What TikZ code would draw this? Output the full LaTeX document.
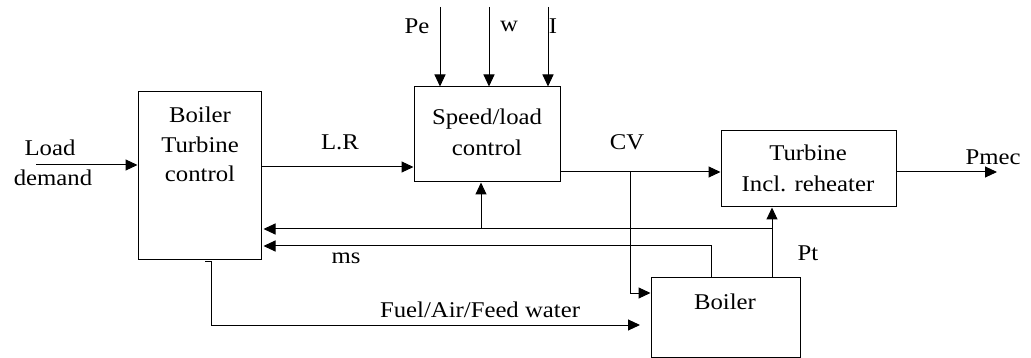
\documentclass[tikz,border=0pt]{standalone}
\usepackage{fontspec}
\setmainfont{Liberation Serif}[FakeStretch=1.1]
\usetikzlibrary{arrows.meta}
\begin{document}
\begin{tikzpicture}[x=1pt,y=-1pt,
  blk/.style={draw,line width=1pt,inner sep=0pt},
  txt/.style={inner sep=0pt,font=\fontsize{22.5}{30}\selectfont},
  wire/.style={line width=1pt},
  arr/.style={wire,-{Triangle[length=12pt,width=11pt]}}]
\useasboundingbox (0,0) rectangle (1031,358);
% blocks
\node[blk,minimum width=123pt,minimum height=168pt] (btc) at (199.5,176) {};
\node[blk,minimum width=146pt,minimum height=95pt] (spd) at (487,134.5) {};
\node[blk,minimum width=175pt,minimum height=76pt] (tur) at (808.5,169) {};
\node[blk,minimum width=149pt,minimum height=80pt] (boi) at (725.5,317) {};
% block texts
\node[txt] (t1) at (200,115) {Boiler};
\node[txt] (t2) at (200,145) {Turbine};
\node[txt] (t3) at (200,174) {control};
\node[txt] (t4) at (487,119) {Speed/load};
\node[txt] (t5) at (487,148) {control};
\node[txt] (t6) at (808,153) {Turbine};
\node[txt] (t7) at (808,184) {Incl. reheater};
\node[txt] (t8) at (725,302) {Boiler};
% labels
\node[txt] (lload) at (50,148) {Load};
\node[txt] (ldem) at (53,178) {demand};
\node[txt] (lpe) at (417,26) {Pe};
\node[txt] (lw) at (509,26) {w};
\node[txt] (li) at (553,26) {I};
\node[txt] (llr) at (340,142) {L.R};
\node[txt] (lcv) at (627,142) {CV};
\node[txt] (lpm) at (993,157) {Pmec};
\node[txt] (lpt) at (808,253) {Pt};
\node[txt] (lms) at (346,258) {ms};
\node[txt] (lfu) at (480,310) {Fuel/Air/Feed water};
% coordinates
\coordinate (ld) at (36,165);
\coordinate (lr) at (300,167);
\coordinate (pe) at (440,7);
\coordinate (w) at (489,7);
\coordinate (ii) at (548,7);
\coordinate (cv) at (630,172);
\coordinate (br) at (630,293);
\coordinate (pt) at (772,229);
\coordinate (fb) at (481,229);
\coordinate (ms) at (711,246);
\coordinate (pm) at (997,172);
\coordinate (f0) at (205,262);
\coordinate (f1) at (211,262);
\coordinate (f2) at (211,325);
\coordinate (f3) at (640,325);
% connectors
\draw[arr] (ld) -- (ld -| btc.west);
\draw[arr] (lr -| btc.east) -- (lr -| spd.west);
\draw[arr] (pe) -- (pe |- spd.north);
\draw[arr] (w) -- (w |- spd.north);
\draw[arr] (ii) -- (ii |- spd.north);
\draw[arr] (cv -| spd.east) -- (cv -| tur.west);
\draw[arr] (cv) -- (br) -- (br -| boi.west);
\draw[arr] (pt |- boi.north) -- (pt |- tur.south);
\draw[arr] (pt) -- ([xshift=2pt]pt -| btc.east);
\draw[arr] (fb) -- (fb |- spd.south);
\draw[arr] (ms |- boi.north) -- (ms) -- ([xshift=2pt]ms -| btc.east);
\draw[arr] (cv -| tur.east) -- (pm);
\draw[arr] (f0) -- (f1) -- (f2) -- (f3);
\end{tikzpicture}
\end{document}
